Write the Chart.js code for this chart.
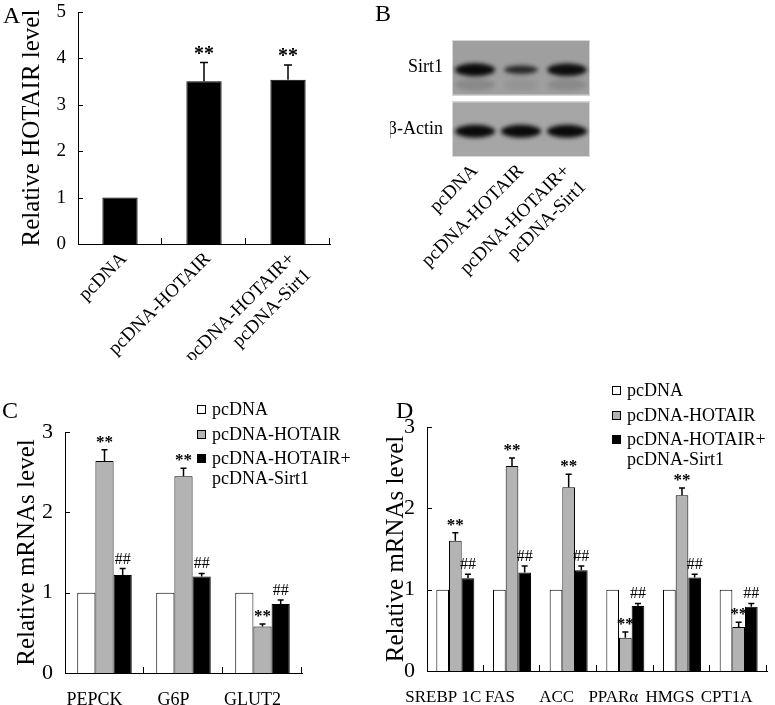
<!DOCTYPE html>
<html>
<head>
<meta charset="utf-8">
<script src="https://cdn.jsdelivr.net/npm/chart.js@4.4.1/dist/chart.umd.min.js"></script>
<style>
  body { margin: 0; background: #fff; font-family: 'Liberation Serif', 'Times New Roman', serif; }
  #fig { position: relative; width: 775px; height: 705px; overflow: hidden; }
  canvas { position: absolute; }
  .letter { position: absolute; font-size: 24px; line-height: 1; }
  .legend { position: absolute; font-size: 18px; }
  .legend .item { display: flex; align-items: flex-start; line-height: 20px; margin-bottom: 4.5px; }
  .legend .box { width: 7px; height: 7px; border: 1px solid #000; margin: 6px 6px 0 0; flex: none; }
</style>
</head>
<body>
<div id="fig">
  <canvas id="chartA" width="390" height="360" style="left:0;top:0"></canvas>
  <canvas id="chartB" width="385" height="360" style="left:390px;top:0"></canvas>
  <canvas id="chartC" width="370" height="345" style="left:0;top:360px"></canvas>
  <canvas id="chartD" width="405" height="345" style="left:370px;top:360px"></canvas>
  <div class="letter" style="left:3px;top:3px">A</div>
  <div class="letter" style="left:375px;top:1px">B</div>
  <div class="letter" style="left:2px;top:398px">C</div>
  <div class="letter" style="left:396px;top:398px">D</div>
  <div class="legend" id="legendC" style="left:197px;top:399px"></div>
  <div class="legend" id="legendD" style="left:612px;top:380px"></div>
</div>
<script>
// ---- data ----
const groups = ['pcDNA', 'pcDNA-HOTAIR', ['pcDNA-HOTAIR+', 'pcDNA-Sirt1']];
const seriesNames = ['pcDNA', 'pcDNA-HOTAIR', 'pcDNA-HOTAIR+\npcDNA-Sirt1'];
const seriesColors = ['#ffffff', '#b3b3b3', '#000000'];

// A: HOTAIR expression
const hotairLevel = [1, 3.51, 3.54];
const hotairErr = [0, 0.40, 0.32];
const hotairMarks = ['', '**', '**'];

// B: western blot (relative band strength)
const blotRows = ['Sirt1', 'β-Actin'];
const sirt1Band = [1.0, 0.5, 0.95];
const actinBand = [1.0, 1.0, 1.0];

// C: gluconeogenesis genes
const genesC = ['PEPCK', 'G6P', 'GLUT2'];
const pcdnaC = [1, 1, 1];
const hotairC = [2.64, 2.45, 0.58];
const hotairErrC = [0.14, 0.10, 0.03];
const sirt1C = [1.22, 1.20, 0.86];
const sirt1ErrC = [0.08, 0.04, 0.05];

// D: lipid metabolism genes
const genesD = ['SREBP 1C', 'FAS', 'ACC', 'PPARα', 'HMGS', 'CPT1A'];
const pcdnaD = [1, 1, 1, 1, 1, 1];
const hotairD = [1.60, 2.52, 2.26, 0.41, 2.16, 0.54];
const hotairErrD = [0.10, 0.10, 0.16, 0.07, 0.09, 0.06];
const sirt1D = [1.14, 1.21, 1.24, 0.80, 1.15, 0.79];
const sirt1ErrD = [0.05, 0.08, 0.05, 0.03, 0.04, 0.04];

// ---- setup ----
const SERIF = "'Liberation Serif', 'Times New Roman', serif";
Chart.defaults.font.family = SERIF;
Chart.defaults.color = '#000';

// small inward tick marks on both axes
const inwardTicks = {
  id: 'inwardTicks',
  afterDraw(chart, args, opts) {
    if (!opts.on) return;
    const { ctx, chartArea: a, scales: { x, y } } = chart;
    ctx.save();
    ctx.strokeStyle = '#000';
    ctx.lineWidth = 1;
    ctx.beginPath();
    y.ticks.forEach(t => {
      const py = Math.round(y.getPixelForValue(t.value)) + 0.5;
      ctx.moveTo(a.left, py);
      ctx.lineTo(a.left + 5, py);
    });
    const step = x.getPixelForValue(1) - x.getPixelForValue(0);
    for (let i = 0; i < x.ticks.length; i++) {
      const px = Math.round(x.getPixelForValue(i) + step / 2) - 0.5;
      ctx.moveTo(px, a.bottom);
      ctx.lineTo(px, a.bottom - 6);
    }
    ctx.stroke();
    ctx.restore();
  }
};

// upper error bars + significance marks
const errorBars = {
  id: 'errorBars',
  afterDatasetsDraw(chart, args, opts) {
    const { ctx } = chart;
    const y = chart.scales.y;
    chart.data.datasets.forEach((ds, di) => {
      if (!ds.errors) return;
      const meta = chart.getDatasetMeta(di);
      meta.data.forEach((bar, i) => {
        const err = ds.errors[i];
        const top = y.getPixelForValue(ds.data[i] + err);
        ctx.save();
        ctx.strokeStyle = '#000';
        ctx.lineWidth = 1.5;
        if (err > 0) {
          ctx.beginPath();
          ctx.moveTo(bar.x, bar.y);
          ctx.lineTo(bar.x, top);
          ctx.moveTo(bar.x - opts.cap, top);
          ctx.lineTo(bar.x + opts.cap, top);
          ctx.stroke();
        }
        const mark = ds.marks ? ds.marks[i] : '';
        if (mark) {
          ctx.fillStyle = '#000';
          ctx.textAlign = 'center';
          ctx.textBaseline = 'alphabetic';
          if (mark === '**') {
            ctx.font = 'bold ' + opts.starSize + 'px ' + SERIF;
            ctx.fillText(mark, bar.x, top - 3);
          } else {
            ctx.font = opts.hashSize + 'px ' + SERIF;
            ctx.fillText(mark, bar.x, top - 5);
          }
        }
        ctx.restore();
      });
    });
  }
};

// western blot strips drawn on the lane / row scales
const blot = {
  id: 'blot',
  beforeDatasetsDraw(chart, args, opts) {
    const { ctx, chartArea: a, scales: { x, y } } = chart;
    const rowStep = y.getPixelForValue(1) - y.getPixelForValue(0);
    const laneStep = x.getPixelForValue(1) - x.getPixelForValue(0);
    ctx.save();
    opts.rows.forEach((bands, r) => {
      const cy = y.getPixelForValue(r);
      const h = Math.abs(rowStep) - 6;
      ctx.fillStyle = opts.backgrounds[r];
      ctx.fillRect(a.left, cy - h / 2, a.right - a.left, h);
      ctx.strokeStyle = '#d8d8d8';
      ctx.lineWidth = 1;
      ctx.strokeRect(a.left + 0.5, cy - h / 2 + 0.5, a.right - a.left - 1, h - 1);
      bands.forEach((v, i) => {
        const cx = x.getPixelForValue(i);
        const bw = laneStep * (0.6 + 0.27 * v) / 2;
        const bh = (4 + 9 * v) / 2;
        ctx.filter = 'blur(2px)';
        if (r === 0) {
          ctx.fillStyle = 'rgba(40,40,40,' + (0.18 * v) + ')';
          ctx.beginPath();
          ctx.ellipse(cx, cy + 17, bw, 6, 0, 0, Math.PI * 2);
          ctx.fill();
        }
        ctx.fillStyle = 'rgba(10,10,10,' + (0.6 + 0.4 * v) + ')';
        ctx.beginPath();
        ctx.ellipse(cx, cy + opts.shift[r], bw, bh, 0, 0, Math.PI * 2);
        ctx.fill();
        ctx.filter = 'none';
      });
    });
    ctx.restore();
  }
};

function makeBarOptions(cfg) {
  return {
    responsive: false,
    animation: false,
    devicePixelRatio: 1,
    layout: { padding: cfg.padding },
    plugins: {
      legend: { display: false },
      tooltip: { enabled: false },
      inwardTicks: { on: true },
      errorBars: cfg.err
    },
    scales: {
      x: {
        offset: true,
        grid: { display: false, drawTicks: false },
        border: { display: true, color: '#000', width: 1 },
        ticks: cfg.xTicks,
        afterFit: s => { s.height = cfg.xHeight; s.paddingLeft = 0; s.paddingRight = 0; }
      },
      y: {
        min: 0,
        max: cfg.yMax,
        grid: { display: false, drawTicks: false },
        border: { display: true, color: '#000', width: 1 },
        ticks: { stepSize: 1, padding: 12, font: { size: cfg.yTickSize } },
        title: {
          display: true,
          text: cfg.yTitle,
          font: { size: 25 },
          padding: { top: cfg.titlePad, bottom: 0 }
        },
        afterFit: s => { s.width = cfg.yWidth; s.paddingTop = 0; s.paddingBottom = 0; }
      }
    }
  };
}

// ---- A ----
new Chart(document.getElementById('chartA'), {
  type: 'bar',
  data: {
    labels: groups,
    datasets: [{
      data: hotairLevel,
      errors: hotairErr,
      marks: hotairMarks,
      backgroundColor: '#000',
      borderColor: '#000',
      borderWidth: 1,
      categoryPercentage: 1,
      barPercentage: 0.42
    }]
  },
  options: makeBarOptions({
    padding: { top: 12, right: 60, left: 0, bottom: 0 },
    xHeight: 116, yWidth: 78, yMax: 5, yTickSize: 19,
    yTitle: 'Relative HOTAIR level', titlePad: 17,
    xTicks: { autoSkip: false, minRotation: 45, maxRotation: 45, padding: 4, labelOffset: 4, font: { size: 19 } },
    err: { cap: 4, starSize: 20, hashSize: 16 }
  }),
  plugins: [inwardTicks, errorBars]
});

// ---- B ----
new Chart(document.getElementById('chartB'), {
  type: 'bar',
  data: { labels: groups, datasets: [] },
  options: {
    responsive: false,
    animation: false,
    devicePixelRatio: 1,
    layout: { padding: { top: 37, right: 185, left: 0, bottom: 0 } },
    plugins: {
      legend: { display: false },
      tooltip: { enabled: false },
      blot: {
        rows: [sirt1Band, actinBand],
        backgrounds: ['#9f9f9f', '#a6a6a6'],
        shift: [2, 2]
      }
    },
    scales: {
      x: {
        offset: true,
        grid: { display: false, drawTicks: false },
        border: { display: false },
        ticks: { autoSkip: false, minRotation: 45, maxRotation: 45, padding: 0, font: { size: 19 } },
        afterFit: s => { s.height = 200; }
      },
      y: {
        type: 'category',
        labels: blotRows,
        offset: true,
        grid: { display: false, drawTicks: false },
        border: { display: false },
        ticks: { padding: 9, font: { size: 18 } },
        afterFit: s => { s.width = 62; }
      }
    }
  },
  plugins: [blot]
});

// ---- C and D ----
function groupedDatasets(base, hot, hotErr, sir, sirErr, catPct) {
  const n = base.length;
  return [
    { label: seriesNames[0], data: base, backgroundColor: seriesColors[0] },
    { label: seriesNames[1], data: hot, errors: hotErr, marks: Array(n).fill('**'), backgroundColor: seriesColors[1] },
    { label: seriesNames[2], data: sir, errors: sirErr, marks: Array(n).fill('##'), backgroundColor: seriesColors[2] }
  ].map(ds => Object.assign(ds, {
    borderColor: '#000', borderWidth: 1, categoryPercentage: catPct, barPercentage: 1
  }));
}

new Chart(document.getElementById('chartC'), {
  type: 'bar',
  data: { labels: genesC, datasets: groupedDatasets(pcdnaC, hotairC, hotairErrC, sirt1C, sirt1ErrC, 0.69) },
  options: makeBarOptions({
    padding: { top: 72, right: 68, left: 0, bottom: 0 },
    xHeight: 32, yWidth: 65, yMax: 3, yTickSize: 22,
    yTitle: 'Relative mRNAs level', titlePad: 12,
    xTicks: { autoSkip: false, maxRotation: 0, padding: 16, labelOffset: -10, font: { size: 18 } },
    err: { cap: 3, starSize: 17, hashSize: 16 }
  }),
  plugins: [inwardTicks, errorBars]
});

new Chart(document.getElementById('chartD'), {
  type: 'bar',
  data: { labels: genesD, datasets: groupedDatasets(pcdnaD, hotairD, hotairErrD, sirt1D, sirt1ErrD, 0.67) },
  options: makeBarOptions({
    padding: { top: 67, right: 8, left: 0, bottom: 0 },
    xHeight: 34, yWidth: 57, yMax: 3, yTickSize: 22,
    yTitle: 'Relative mRNAs level', titlePad: 11,
    xTicks: { autoSkip: false, maxRotation: 0, padding: 16, labelOffset: -12, font: { size: 17 } },
    err: { cap: 3, starSize: 17, hashSize: 16 }
  }),
  plugins: [inwardTicks, errorBars]
});

// ---- HTML legends for C and D ----
['legendC', 'legendD'].forEach(id => {
  const el = document.getElementById(id);
  seriesNames.forEach((name, i) => {
    const item = document.createElement('div');
    item.className = 'item';
    const box = document.createElement('span');
    box.className = 'box';
    box.style.background = seriesColors[i];
    const txt = document.createElement('span');
    txt.innerHTML = name.split('\n').join('<br>');
    item.appendChild(box);
    item.appendChild(txt);
    el.appendChild(item);
  });
});
</script>
</body>
</html>
